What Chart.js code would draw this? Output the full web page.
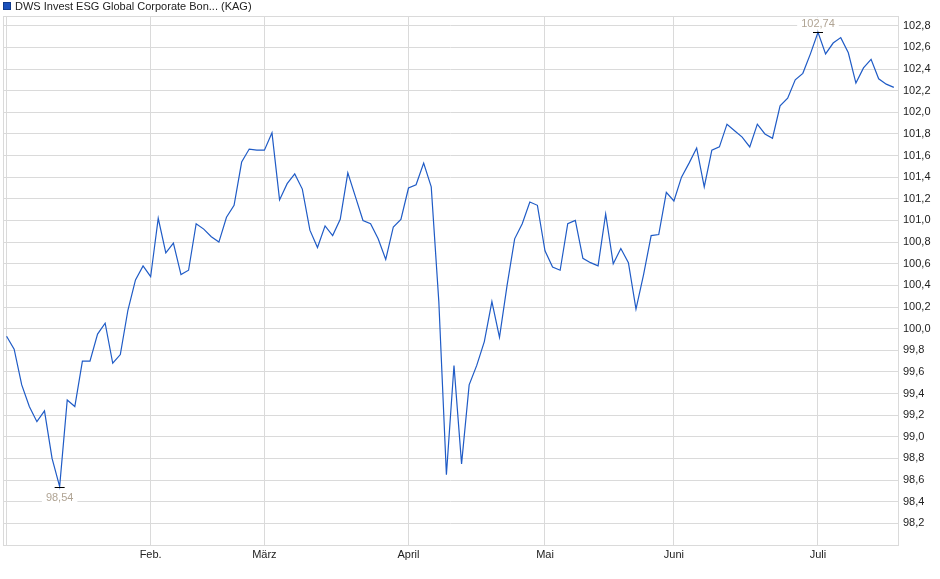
<!DOCTYPE html>
<html lang="de">
<head>
  <meta charset="UTF-8">
  <title>DWS Invest ESG Global Corporate Bonds</title>
  <script src="https://cdn.jsdelivr.net/npm/chart.js"></script>
  <style>
    body {
      margin: 0;
      background: #fff;
    }
    canvas {
      display: block;
    }
  </style>
</head>
<body>
  <canvas id="fundChart" width="940" height="579"></canvas>

  <script>
    // Series name shown in the legend
    const seriesName = 'DWS Invest ESG Global Corporate Bon... (KAG)';

    // Daily prices, one entry per trading day
    const prices = [
      99.93, 99.81, 99.48, 99.28, 99.14, 99.24, 98.80, 98.54, 99.34, 99.28,
      99.70, 99.70, 99.95, 100.05, 99.68, 99.76, 100.17, 100.45, 100.58, 100.48,
      101.02, 100.70, 100.79, 100.50, 100.54, 100.97, 100.92, 100.85, 100.80, 101.03,
      101.14, 101.54, 101.66, 101.65, 101.65, 101.81, 101.19, 101.34, 101.43, 101.29,
      100.91, 100.75, 100.95, 100.86, 101.01, 101.44, 101.22, 101.00, 100.97, 100.83,
      100.64, 100.94, 101.01, 101.30, 101.33, 101.53, 101.31, 100.25, 98.65, 99.66,
      98.75, 99.48, 99.66, 99.88, 100.25, 99.92, 100.40, 100.83, 100.97, 101.17,
      101.14, 100.72, 100.57, 100.54, 100.97, 101.00, 100.65, 100.61, 100.58, 101.06,
      100.60, 100.74, 100.61, 100.18, 100.50, 100.86, 100.87, 101.26, 101.18, 101.40,
      101.53, 101.67, 101.31, 101.65, 101.68, 101.89, 101.83, 101.77, 101.68, 101.89,
      101.80, 101.76, 102.06, 102.13, 102.30, 102.36, 102.54, 102.74, 102.54, 102.64,
      102.69, 102.55, 102.27, 102.41, 102.49, 102.31, 102.26, 102.23
    ];

    // Month labels and the trading day index where each month starts
    const monthLabels = ['', 'Feb.', 'März', 'April', 'Mai', 'Juni', 'Juli'];
    const monthIndex = [0, 19, 34, 53, 71, 88, 107];

    // Price axis ticks
    const priceTicks = [
      98.2, 98.4, 98.6, 98.8, 99.0, 99.2, 99.4, 99.6, 99.8, 100.0, 100.2, 100.4,
      100.6, 100.8, 101.0, 101.2, 101.4, 101.6, 101.8, 102.0, 102.2, 102.4, 102.6, 102.8
    ];

    const lineColor = '#1f5bc6';
    const gridColor = '#dadada';
    const fmt = (v, d) => v.toFixed(d).replace('.', ',');

    Chart.defaults.font.family = '"Liberation Sans", Arial, sans-serif';
    Chart.defaults.font.size = 11;
    Chart.defaults.color = '#222';

    // frame round the plot area + legend at top left
    const framePlugin = {
      id: 'frame',
      beforeDatasetsDraw(chart) {
        const { ctx, chartArea: a } = chart;
        ctx.save();
        ctx.strokeStyle = gridColor;
        ctx.lineWidth = 1;
        ctx.strokeRect(Math.round(a.left) + 0.5, Math.round(a.top) + 0.5,
          Math.round(a.right - a.left), Math.round(a.bottom - a.top));
        ctx.restore();
      },
      afterDraw(chart) {
        const ctx = chart.ctx;
        ctx.save();
        ctx.fillStyle = '#1a50bb';
        ctx.fillRect(3, 2, 8, 8);
        ctx.strokeStyle = '#0f3a8c';
        ctx.strokeRect(3.5, 2.5, 7, 7);
        ctx.fillStyle = '#222';
        ctx.font = '11px "Liberation Sans", Arial, sans-serif';
        ctx.textBaseline = 'middle';
        ctx.fillText(seriesName, 15, 6.5);
        ctx.restore();
      }
    };

    // min / max markers with value labels
    const extremaPlugin = {
      id: 'extrema',
      afterDatasetsDraw(chart) {
        const { ctx, scales: { x, y } } = chart;
        const lo = Math.min(...prices), hi = Math.max(...prices);
        const marks = [
          { i: prices.indexOf(lo), v: lo, dy: 10 },
          { i: prices.indexOf(hi), v: hi, dy: -9 }
        ];
        ctx.save();
        ctx.font = '11px "Liberation Sans", Arial, sans-serif';
        ctx.textAlign = 'center';
        ctx.textBaseline = 'middle';
        marks.forEach(m => {
          const px = x.getPixelForValue(m.i);
          const py = Math.round(y.getPixelForValue(m.v)) + 0.5;
          const txt = fmt(m.v, 2);
          const w = ctx.measureText(txt).width + 8;
          ctx.fillStyle = '#fff';
          ctx.fillRect(px - w / 2, py + m.dy - 6, w, 12);
          ctx.fillStyle = '#b0a494';
          ctx.fillText(txt, px, py + m.dy);
          ctx.strokeStyle = '#000';
          ctx.lineWidth = 1;
          ctx.beginPath();
          ctx.moveTo(px - 5, py);
          ctx.lineTo(px + 5, py);
          ctx.stroke();
        });
        ctx.restore();
      }
    };

    const ctx = document.getElementById('fundChart').getContext('2d');
    new Chart(ctx, {
      type: 'line',
      data: {
        datasets: [{
          label: seriesName,
          data: prices.map((v, i) => ({ x: i, y: v })),
          borderColor: lineColor,
          borderWidth: 1.2,
          pointRadius: 0,
          tension: 0,
          fill: false
        }]
      },
      options: {
        responsive: false,
        animation: false,
        layout: {
          padding: { top: 16, left: 3, right: 0, bottom: 0 }
        },
        plugins: {
          legend: { display: false },
          tooltip: { enabled: false }
        },
        scales: {
          x: {
            type: 'linear',
            min: -0.47,
            max: 117.55,
            afterBuildTicks: s => { s.ticks = monthIndex.map(v => ({ value: v })); },
            afterFit: s => { s.height = 34; },
            ticks: {
              autoSkip: false,
              maxRotation: 0,
              padding: 3,
              color: '#222',
              callback: v => monthLabels[monthIndex.indexOf(v)]
            },
            grid: { color: gridColor, drawTicks: false },
            border: { color: gridColor }
          },
          y: {
            position: 'right',
            min: 98.0,
            max: 102.89,
            afterBuildTicks: s => { s.ticks = priceTicks.map(v => ({ value: v })); },
            afterFit: s => { s.width = 42; },
            ticks: {
              padding: 5,
              color: '#222',
              callback: v => fmt(v, 1)
            },
            grid: { color: gridColor, drawTicks: false },
            border: { color: gridColor }
          }
        }
      },
      plugins: [framePlugin, extremaPlugin]
    });
  </script>
</body>
</html>
